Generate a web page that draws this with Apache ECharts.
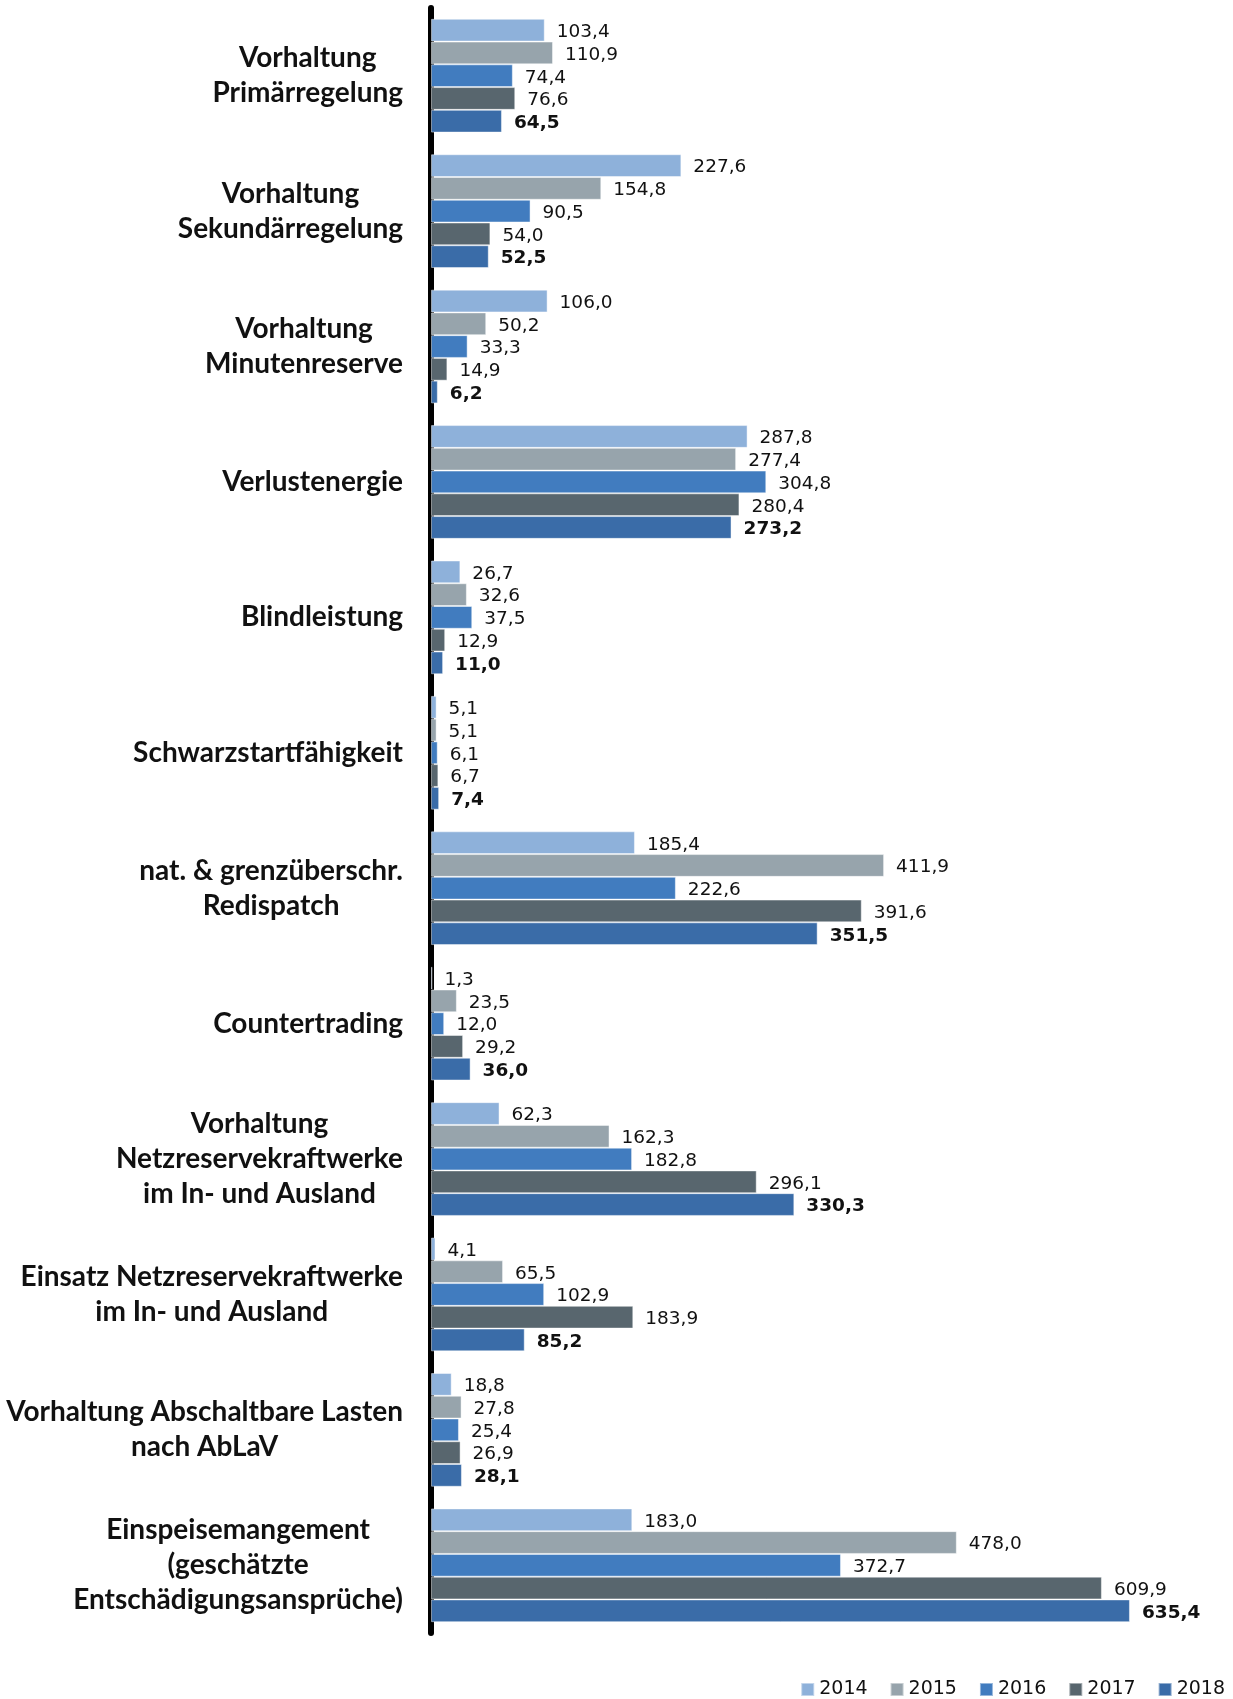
<!DOCTYPE html>
<html>
<head>
<meta charset="utf-8">
<script src="https://cdn.jsdelivr.net/npm/echarts@6/dist/echarts.min.js"></script>
<style>
html,body{margin:0;padding:0;background:#fff;}
#chart{width:1233px;height:1699px;}
</style>
</head>
<body>
<div id="chart"></div>
<script>
const categories = [
  "Vorhaltung\nPrimärregelung",
  "Vorhaltung\nSekundärregelung",
  "Vorhaltung\nMinutenreserve",
  "Verlustenergie",
  "Blindleistung",
  "Schwarzstartfähigkeit",
  "nat. & grenzüberschr.\nRedispatch",
  "Countertrading",
  "Vorhaltung\nNetzreservekraftwerke\nim In- und Ausland",
  "Einsatz Netzreservekraftwerke\nim In- und Ausland",
  "Vorhaltung Abschaltbare Lasten\nnach AbLaV",
  "Einspeisemangement\n(geschätzte\nEntschädigungsansprüche)"
];
const years = ["2014", "2015", "2016", "2017", "2018"];
const values2014 = [103.4, 227.6, 106.0, 287.8, 26.7, 5.1, 185.4, 1.3, 62.3, 4.1, 18.8, 183.0];
const values2015 = [110.9, 154.8, 50.2, 277.4, 32.6, 5.1, 411.9, 23.5, 162.3, 65.5, 27.8, 478.0];
const values2016 = [74.4, 90.5, 33.3, 304.8, 37.5, 6.1, 222.6, 12.0, 182.8, 102.9, 25.4, 372.7];
const values2017 = [76.6, 54.0, 14.9, 280.4, 12.9, 6.7, 391.6, 29.2, 296.1, 183.9, 26.9, 609.9];
const values2018 = [64.5, 52.5, 6.2, 273.2, 11.0, 7.4, 351.5, 36.0, 330.3, 85.2, 28.1, 635.4];
const colors = ["#8EB1DA", "#97A4AC", "#417CBF", "#58666E", "#3A6CA8"];

const seriesValues = [values2014, values2015, values2016, values2017, values2018];
const CAT_FONT = "Lato, 'Noto Sans', sans-serif";
const VAL_FONT = "'DejaVu Sans', sans-serif";

const chart = echarts.init(document.getElementById('chart'), null, {renderer: 'canvas'});

const series = years.map((y, i) => ({
  name: y,
  type: 'bar',
  data: seriesValues[i],
  barGap: '0%',
  barCategoryGap: '16%',
  itemStyle: {color: colors[i], borderColor: 'rgba(255,255,255,0.45)', borderWidth: 1},
  label: {
    show: true,
    position: 'right',
    distance: 12,
    offset: [0, 2],
    fontFamily: VAL_FONT,
    fontSize: 18.5,
    fontWeight: i === 4 ? 'bold' : 'normal',
    color: '#111',
    formatter: p => p.value.toFixed(1).replace('.', ',')
  }
}));

chart.setOption({
  animation: false,
  backgroundColor: '#fff',
  color: colors,
  grid: {left: 431, right: 32, top: 8, bottom: 66, containLabel: false},
  legend: {
    data: years,
    right: 8,
    top: 1680,
    padding: 0,
    icon: 'rect',
    itemWidth: 13,
    itemHeight: 13,
    itemGap: 22,
    textStyle: {fontFamily: VAL_FONT, fontSize: 19, color: '#111'}
  },
  xAxis: {
    type: 'value',
    min: 0,
    max: 700,
    show: false
  },
  yAxis: {
    type: 'category',
    data: categories,
    inverse: true,
    offset: 3,
    axisLine: {show: true, lineStyle: {color: '#000', width: 6}},
    axisTick: {show: false},
    axisLabel: {
      margin: 25,
      align: 'right',
      formatter: v => v.split('\n').map(l => '{c|' + l + '}').join('\n'),
      rich: {
        c: {align: 'center', fontFamily: CAT_FONT, fontSize: 28, fontWeight: 'bold', color: '#111', lineHeight: 35}
      }
    },
    splitLine: {show: false}
  },
  series: series
});
</script>
</body>
</html>
